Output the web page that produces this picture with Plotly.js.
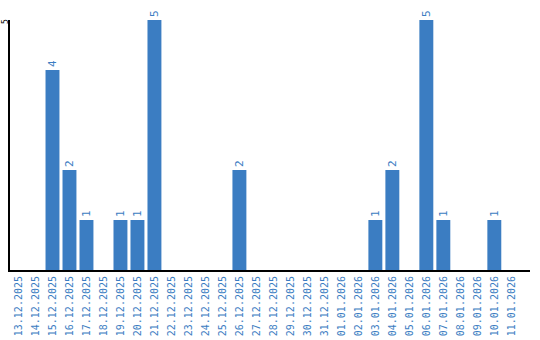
<!DOCTYPE html>
<html><head><meta charset="utf-8">
<script src="https://cdn.plot.ly/plotly-3.0.1.min.js"></script>
<style>html,body{margin:0;padding:0;background:#fff}</style>
</head><body><div id="chart" style="width:540px;height:340px"></div>
<script>
const dates = ["13.12.2025","14.12.2025","15.12.2025","16.12.2025","17.12.2025","18.12.2025","19.12.2025","20.12.2025","21.12.2025","22.12.2025","23.12.2025","24.12.2025","25.12.2025","26.12.2025","27.12.2025","28.12.2025","29.12.2025","30.12.2025","31.12.2025","01.01.2026","02.01.2026","03.01.2026","04.01.2026","05.01.2026","06.01.2026","07.01.2026","08.01.2026","09.01.2026","10.01.2026","11.01.2026"];
const counts = [0,0,4,2,1,0,1,1,5,0,0,0,0,2,0,0,0,0,0,0,0,1,2,0,5,1,0,0,1,0];
const yTicks = [5];
const labels = counts.map(v => v > 0 ? String(v) : "");
const blue = "#3b7dc2";
Plotly.newPlot("chart", [{
  type: "bar", x: dates, y: counts, text: labels,
  textposition: "outside", textangle: -90,
  textfont: {family: "DejaVu Sans Mono, monospace", size: 11, color: blue},
  marker: {color: blue}, cliponaxis: false, hoverinfo: "none"
}], {
  width: 540, height: 340,
  margin: {l: 10, r: 10, t: 20, b: 70},
  paper_bgcolor: "#fff", plot_bgcolor: "#fff",
  bargap: 0.18, showlegend: false,
  xaxis: {type: "category", range: [-0.5, 30.1], tickangle: -90, showline: true, linecolor: "#000", linewidth: 2,
    tickfont: {family: "DejaVu Sans Mono, monospace", size: 10, color: blue},
    ticks: "", showgrid: false, automargin: false},
  yaxis: {range: [0, 5], tickvals: yTicks, showticklabels: false,
    showline: true, linecolor: "#000", linewidth: 2, showgrid: true, gridcolor: "#cccccc",
    zeroline: false, ticks: "", automargin: false},
  annotations: yTicks.map(v => ({
    xref: "paper", yref: "y", x: 0, y: v, xanchor: "center", yanchor: "middle",
    xshift: -5, yshift: -2, text: String(v), textangle: -90, showarrow: false,
    borderpad: 0, font: {family: "DejaVu Sans Mono, monospace", size: 8, color: "#000"}
  }))
}, {displayModeBar: false, staticPlot: true});
</script></body></html>
